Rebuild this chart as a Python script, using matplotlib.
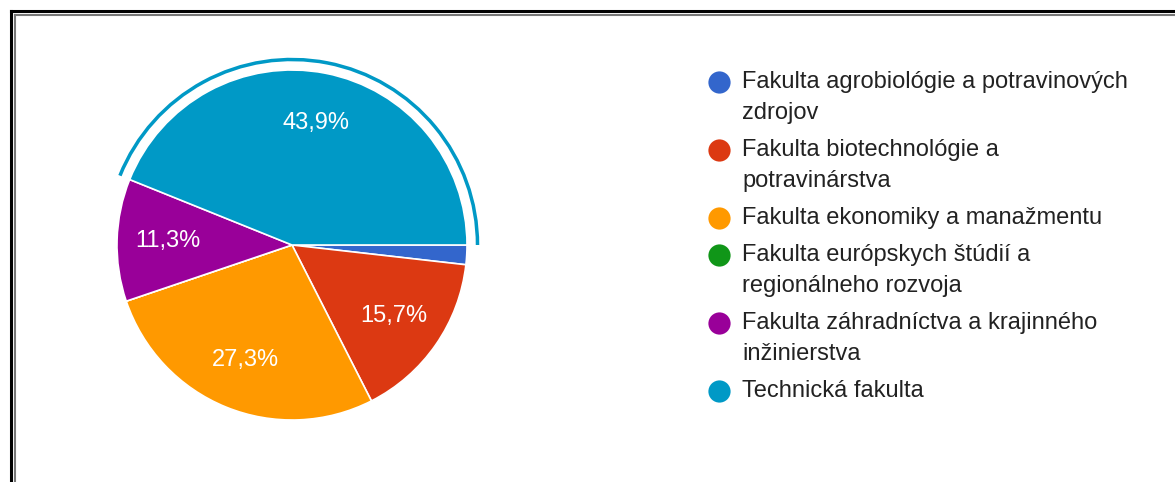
import matplotlib
matplotlib.use("Agg")
import matplotlib.pyplot as plt
from matplotlib.patches import Wedge
from matplotlib.lines import Line2D

plt.rcParams['font.family'] = ['Liberation Sans', 'DejaVu Sans']

faculties = [
    "Fakulta agrobiológie a potravinových\nzdrojov",
    "Fakulta biotechnológie a\npotravinárstva",
    "Fakulta ekonomiky a manažmentu",
    "Fakulta európskych štúdií a\nregionálneho rozvoja",
    "Fakulta záhradníctva a krajinného\ninžinierstva",
    "Technická fakulta",
]
shares = [1.8, 15.7, 27.3, 0.0, 11.3, 43.9]
colors = ["#3366cc", "#dc3912", "#ff9900", "#109618", "#990099", "#0099c6"]
highlight = 5  # slice with the outer ring

W, H = 1175, 482
fig = plt.figure(figsize=(W / 100, H / 100), dpi=100)

# pie axes: centre at (292, 245) px, radius 175 px
R, cx, cy = 175, 292, 245
lim = 1.2
side = R * 2 * lim
ax = fig.add_axes([(cx - side / 2) / W, (H - cy - side / 2) / H, side / W, side / H])


def fmt(p):
    return ('%.1f%%' % p).replace('.', ',') if p >= 5 else ''


wedges, _, autotexts = ax.pie(shares, colors=colors, startangle=0, counterclock=False,
                              autopct=fmt, pctdistance=0.71,
                              wedgeprops=dict(edgecolor='white', linewidth=1.2),
                              textprops=dict(color='white', fontsize=17))
ax.set_xlim(-lim, lim)
ax.set_ylim(-lim, lim)
ax.set_aspect('equal')
ax.axis('off')

# ring around the highlighted slice
w = wedges[highlight]
ax.add_patch(Wedge((0, 0), 1.07, w.theta1, w.theta2, width=0.02,
                   facecolor=colors[highlight], edgecolor='none'))

# legend, drawn by hand
y = 82
for lab, col in zip(faculties, colors):
    fig.add_artist(Line2D([719 / W], [1 - y / H], marker='o', markersize=16,
                          color=col, markeredgewidth=0, transform=fig.transFigure))
    lines = lab.split('\n')
    for i, ln in enumerate(lines):
        fig.text(742 / W, 1 - (y + i * 31) / H, ln, fontsize=17, color='#222222',
                 va='center', ha='left')
    y += 37 + 31 * (len(lines) - 1)

# frame lines at top/left
fig.add_artist(Line2D([11 / W, 1], [1 - 11 / H, 1 - 11 / H], color='black', lw=2.2,
                      transform=fig.transFigure))
fig.add_artist(Line2D([11 / W, 11 / W], [0, 1 - 11 / H], color='black', lw=2.2,
                      transform=fig.transFigure))
fig.add_artist(Line2D([14.5 / W, 1], [1 - 14.5 / H, 1 - 14.5 / H], color='#777777', lw=1.5,
                      transform=fig.transFigure))
fig.add_artist(Line2D([14.5 / W, 14.5 / W], [0, 1 - 14.5 / H], color='#777777', lw=1.5,
                      transform=fig.transFigure))

fig.savefig('out.png', dpi=100)
